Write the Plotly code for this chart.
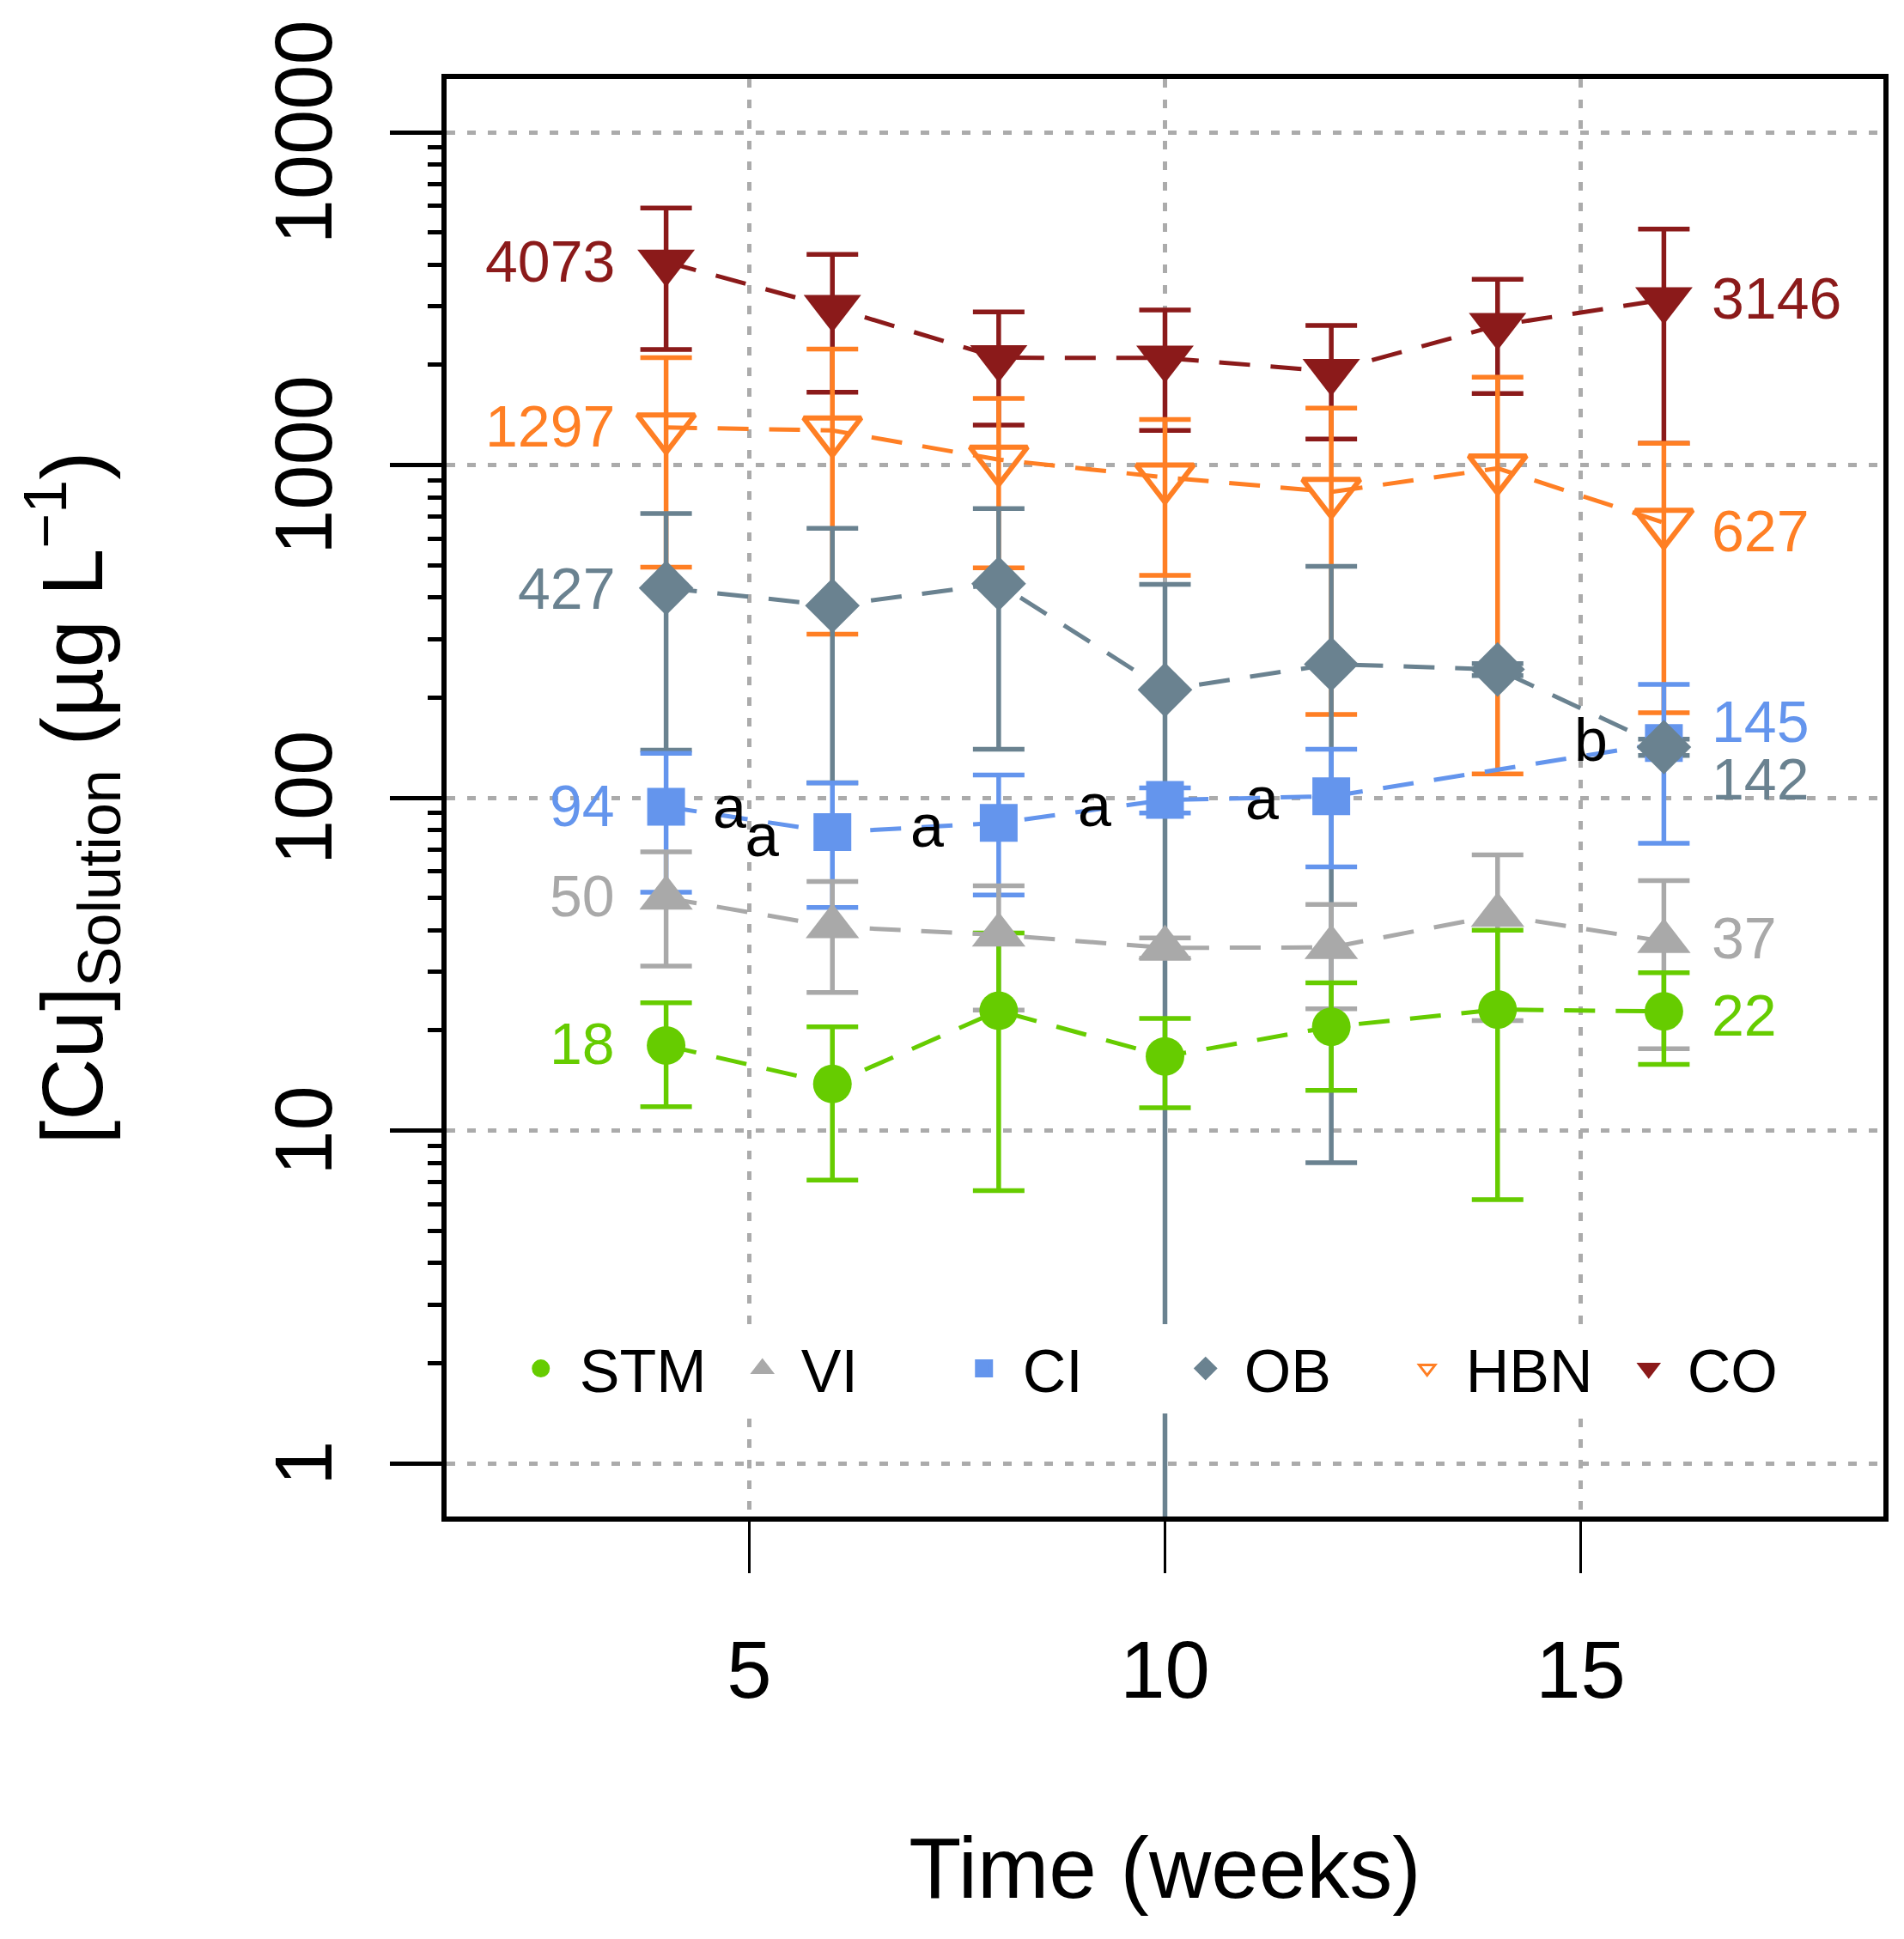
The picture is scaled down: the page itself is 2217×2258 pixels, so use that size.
import math
import plotly.graph_objects as go

# ---------------- data ----------------
weeks = [4, 6, 8, 10, 12, 14, 16]
ci_weeks = [4, 6, 8, 10, 12, 16]

stm_mean = [18, 13.8, 22.9, 16.7, 20.5, 23.1, 22.8]
stm_sd = [6.2, 6.7, 16.3, 5.0, 7.3, 16.9, 7.0]
vi_mean = [50, 41, 38.7, 35.4, 35.5, 44.4, 37]
vi_sd = [18.8, 15.0, 15.7, 2.5, 12.3, 23.0, 19.4]
ci_mean = [94, 78.8, 84, 98.5, 101, 146]
ci_sd = [42, 32, 33, 8.5, 39, 73]
ob_mean = [427, 378, 440, 211, 252, 243, 142]
ob_sd = [288, 267, 300, 227, 244, 10, 8]
hbn_mean = [1297, 1270, 1038, 918, 830, 977, 671]
hbn_sd = [804, 960, 547, 452, 652, 859, 491]
co_mean = [4073, 2975, 2101, 2097, 1911, 2627, 3140]
co_sd = [1850, 1320, 783, 826, 714, 987, 1978]

series_names = ["STM", "VI", "CI", "OB", "HBN", "CO"]
left_labels = ["18", "50", "94", "427", "1297", "4073"]
left_label_y = [18.3, 50.7, 95, 426, 1314, 4094]
right_labels = ["22", "37", "145", "142", "627", "3146"]
right_label_y = [22.3, 37.9, 170, 114, 636, 3170]

letters = ["a", "a", "a", "a", "a", "b"]
letter_x = [4.76, 5.16, 7.14, 9.15, 11.17, 15.12]
letter_y = [93.8, 76.8, 82, 95, 99.5, 149]

x_ticks = [5, 10, 15]
y_ticks = [1, 10, 100, 1000, 10000]
y_tick_text = ["1", "10", "100", "1000", "10000"]

# ---------------- styles ----------------
FONT = "Liberation Sans, Arial, Helvetica, sans-serif"
colors = {"STM": "#66CC00", "VI": "#A9A9A9", "CI": "#6495ED",
          "OB": "#6A8290", "HBN": "#FF7F24", "CO": "#8B1A1A"}
symbols = {"STM": "circle", "VI": "triangle-up", "CI": "square",
           "OB": "diamond", "HBN": "triangle-down-open", "CO": "triangle-down"}
sizes = {"STM": 45, "VI": 54, "CI": 44, "OB": 49, "HBN": 58, "CO": 58}

data = {
    "STM": (weeks, stm_mean, stm_sd),
    "VI": (weeks, vi_mean, vi_sd),
    "CI": (ci_weeks, ci_mean, ci_sd),
    "OB": (weeks, ob_mean, ob_sd),
    "HBN": (weeks, hbn_mean, hbn_sd),
    "CO": (weeks, co_mean, co_sd),
}

fig = go.Figure()

# error bars first (underneath all markers)
for name in ["CO", "HBN", "OB", "CI", "VI", "STM"]:
    xs, ys, sd = data[name]
    fig.add_trace(go.Scatter(
        x=xs, y=ys, mode="markers",
        marker=dict(size=1, color="rgba(0,0,0,0)"),
        error_y=dict(type="data", array=sd, symmetric=True, visible=True,
                     color=colors[name], thickness=5.5, width=30),
        showlegend=False, hoverinfo="skip"))

# dashed lines + markers
for name in series_names:
    xs, ys, sd = data[name]
    mk = dict(symbol=symbols[name], size=sizes[name], color=colors[name])
    if name == "HBN":
        mk["line"] = dict(color=colors[name], width=6)
    fig.add_trace(go.Scatter(
        x=xs, y=ys, mode="lines+markers", name=name,
        line=dict(color=colors[name], width=5, dash="36px,24px"),
        marker=mk, showlegend=False))

# legend-only entries (markers only)
for name in series_names:
    lw = 3 if name == "HBN" else 5
    mk = dict(symbol=symbols[name], size=16, color=colors[name],
              line=dict(color=colors[name], width=lw))
    fig.add_trace(go.Scatter(x=[None], y=[None], mode="markers", name=name,
                             marker=mk, showlegend=True))

# value labels
for i, name in enumerate(series_names):
    xs = data[name][0]
    fig.add_annotation(x=xs[0], y=math.log10(left_label_y[i]), yref="y", xref="x",
                       text=left_labels[i], showarrow=False, xanchor="right",
                       yanchor="middle", xshift=-58,
                       font=dict(family=FONT, size=68, color=colors[name]))
    fig.add_annotation(x=xs[-1], y=math.log10(right_label_y[i]), yref="y", xref="x",
                       text=right_labels[i], showarrow=False, xanchor="left",
                       yanchor="middle", xshift=54,
                       font=dict(family=FONT, size=68, color=colors[name]))

for t, lx, ly in zip(letters, letter_x, letter_y):
    fig.add_annotation(x=lx, y=math.log10(ly), text=t, showarrow=False, xanchor="center",
                       yanchor="middle", font=dict(family=FONT, size=70, color="black"))

minor_vals = [m * 10 ** d for d in range(4) for m in range(2, 10)]

fig.update_layout(
    width=2217, height=2258,
    margin=dict(l=512, r=32, t=84, b=500, autoexpand=False),
    paper_bgcolor="white", plot_bgcolor="white",
    font=dict(family=FONT, color="black"),
    legend=dict(orientation="h", x=0.0387, xanchor="left", y=0.103, yanchor="middle",
                bgcolor="white", borderwidth=0, entrywidth=163, entrywidthmode="pixels",
                itemwidth=80, font=dict(family=FONT, size=70, color="black")),
    xaxis=dict(range=[1.36, 18.64], tickvals=x_ticks, ticktext=[str(v) for v in x_ticks],
               automargin=False,
               showgrid=True, gridcolor="#ABABAB", gridwidth=5, griddash="10px,14px",
               zeroline=False, showline=True, linewidth=6, linecolor="black", mirror=True,
               ticks="outside", ticklen=60, tickwidth=3, tickcolor="black",
               ticklabelstandoff=32,
               tickfont=dict(family=FONT, size=94, color="black"),
               title=dict(text="Time (weeks)", font=dict(family=FONT, size=100, color="black"),
                          standoff=146)),
    yaxis=dict(type="log", range=[-0.16, 4.16], tickvals=y_ticks, ticktext=y_tick_text,
               automargin=False,
               tickangle=-90, ticklabeloverflow="allow", ticklabelshift=14,
               showgrid=True, gridcolor="#ABABAB", gridwidth=5, griddash="10px,14px",
               zeroline=False, showline=True, linewidth=6, linecolor="black", mirror=True,
               ticks="outside", ticklen=60, tickwidth=5, tickcolor="black",
               ticklabelstandoff=30,
               minor=dict(tickvals=minor_vals, ticks="outside", ticklen=16, tickwidth=5,
                          tickcolor="black", showgrid=False),
               tickfont=dict(family=FONT, size=94, color="black"),
               title=dict(text="[Cu]<sub>Solution</sub> (µg L<sup>−1</sup>)",
                          font=dict(family=FONT, size=100, color="black"),
                          standoff=150)),
)

fig.write_html("out.html")
